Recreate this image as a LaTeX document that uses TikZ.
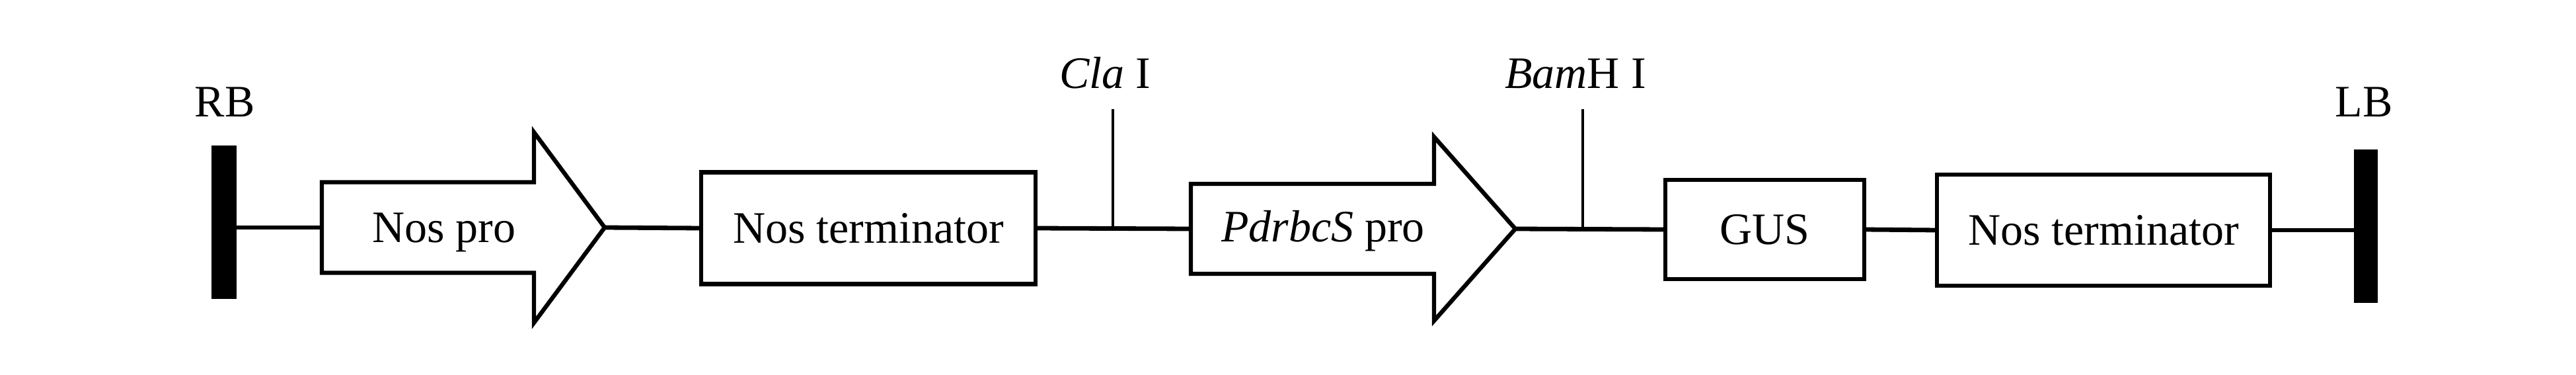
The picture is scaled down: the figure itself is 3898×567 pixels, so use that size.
\documentclass[tikz,border=0pt]{standalone}
\usepackage{fontspec}
\setmainfont{Liberation Serif}
\newcommand\labfont{\fontsize{17}{20}\selectfont}
\newlength\pxu
\setlength\pxu{0.25pt}
\begin{document}
\begin{tikzpicture}[x=0.25pt,y=-0.25pt,
  box/.style={draw,line width=1.7pt,inner sep=0pt,outer sep=0pt,font=\labfont},
  bar/.style={fill=black,draw=none,inner sep=0pt,outer sep=0pt},
  link/.style={line width=1.7pt},
  tick/.style={line width=1.1pt},
  lbl/.style={font=\labfont,inner sep=0pt,anchor=base},
  prom/.style={draw,line width=1.6pt,line join=miter,fill=white}]
\useasboundingbox[fill=white] (0,0) rectangle (3898,567);

% border bars
\node[bar,minimum width=38\pxu,minimum height=232\pxu] (rb) at (339,336) {};
\node[lbl] (rbt) at (340,176) {RB};
\node[bar,minimum width=36\pxu,minimum height=232\pxu] (lb) at (3580,342) {};
\node[lbl] (lbt) at (3577,176) {LB};

% Nos pro arrow
\coordinate (np-w) at (487,344);
\coordinate (np-e) at (915,344);
\draw[prom] (487,275.5) -- (808,275.5) -- (808,200) -- (np-e) -- (808,488) -- (808,412.5) -- (487,412.5) -- cycle;
\node[lbl] (npt) at (672,366) {Nos pro};

% Nos terminator 1
\node[box,minimum width=506\pxu,minimum height=169\pxu] (nt1) at (1314,345) {Nos terminator};

% PdrbcS pro arrow
\coordinate (pd-w) at (1802,346);
\coordinate (pd-e) at (2293,346);
\draw[prom] (1802,278) -- (2170,278) -- (2170,207) -- (pd-e) -- (2170,485) -- (2170,414) -- (1802,414) -- cycle;
\node[lbl] (pdt) at (2002,365) {\textit{PdrbcS} pro};

% GUS
\node[box,minimum width=301\pxu,minimum height=150\pxu] (gus) at (2670.5,347) {GUS};

% Nos terminator 2
\node[box,minimum width=504\pxu,minimum height=168\pxu] (nt2) at (3183,348) {Nos terminator};

% backbone connectors
\draw[link] (rb.east |- np-w) -- (np-w);
\draw[link] (np-e) -- (nt1.west);
\draw[link] (nt1.east) -- (pd-w);
\draw[link] (pd-e) -- (gus.west);
\draw[link] (gus.east) -- (nt2.west);
\draw[link] (nt2.east) -- (nt2.east -| lb.west);

% restriction sites
\coordinate (cla) at (1684,345);
\coordinate (clatop) at (1684,165);
\draw[tick] (clatop) -- (cla);
\node[lbl] (clat) at (1672,133) {\textit{Cla} I};

\coordinate (bam) at (2395,346);
\coordinate (bamtop) at (2395,165);
\draw[tick] (bamtop) -- (bam);
\node[lbl] (bamt) at (2384,133) {\textit{Bam}H I};
\end{tikzpicture}
\end{document}
